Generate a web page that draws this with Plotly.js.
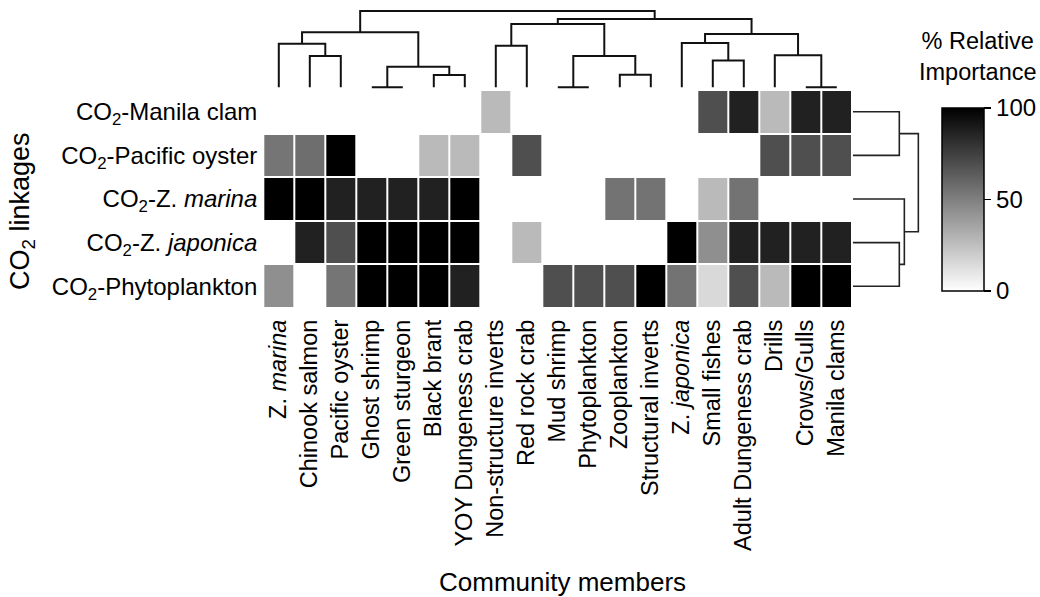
<!DOCTYPE html>
<html>
<head>
<meta charset="utf-8">
<script src="https://cdn.plot.ly/plotly-3.0.1.min.js"></script>
<style>html,body{margin:0;padding:0;background:#fff;}#chart{width:1040px;height:597px;}</style>
</head>
<body>
<div id="chart"></div>
<script>
// ---- data ----
var members = ["Z. <i>marina</i>", "Chinook salmon", "Pacific oyster", "Ghost shrimp", "Green sturgeon",
  "Black brant", "YOY Dungeness crab", "Non-structure inverts", "Red rock crab", "Mud shrimp",
  "Phytoplankton", "Zooplankton", "Structural inverts", "Z. <i>japonica</i>", "Small fishes",
  "Adult Dungeness crab", "Drills", "Crows/Gulls", "Manila clams"];
var linkages = ["CO<sub>2</sub>-Manila clam", "CO<sub>2</sub>-Pacific oyster", "CO<sub>2</sub>-Z. <i>marina</i>",
  "CO<sub>2</sub>-Z. <i>japonica</i>", "CO<sub>2</sub>-Phytoplankton"];
var n = null;
var manilaClam   = [n, n, n, n, n, n, n, 27, n, n, n, n, n, n, 69, 87, 27, 87, 87];
var pacificOyster= [54, 57, 100, n, n, 27, 27, n, 69, n, n, n, n, n, n, n, 69, 69, 69];
var zMarina      = [100, 100, 87, 87, 87, 87, 100, n, n, n, n, 55, 55, n, 27, 55, n, n, n];
var zJaponica    = [n, 87, 69, 100, 100, 100, 100, n, 27, n, n, n, n, 100, 44, 87, 87, 87, 87];
var phytoplankton= [44, n, 54, 100, 100, 100, 87, n, n, 69, 69, 69, 100, 55, 15, 69, 27, 100, 100];
var colorTicks = [0, 50, 100];
// dendrograms: [height, left, right]; leaves are indices
var colTree = [1.0,
  [0.72, [0.57, 0, [0.41, 1, 2]], [0.27, [0, 3, 4], [0.16, 5, 6]]],
  [0.895, [0.83, [0.545, 7, 8], [0.41, [0, 9, 10], [0.165, 11, 12]]],
          [0.70, [0.58, 13, [0.35, 14, 15]], [0.42, 16, [0, 17, 18]]]]];
var rowTree = [1.0, [0.709, 0, 1], [0.786, 2, [0.709, 3, 4]]];

// ---- build ----
function dendro(node, xs, ys) {
  if (typeof node === "number") return {p: node, h: 0};
  var a = dendro(node[1], xs, ys), b = dendro(node[2], xs, ys), h = node[0];
  xs.push(a.p, a.p, b.p, b.p, null);
  ys.push(a.h, h, h, b.h, null);
  return {p: (a.p + b.p) / 2, h: h};
}
var cxs = [], chs = []; dendro(colTree, cxs, chs);
var rps = [], rhs = []; dendro(rowTree, rps, rhs);

var z = [manilaClam, pacificOyster, zMarina, zJaponica, phytoplankton];
var idxX = members.map(function(_, i){return i;});
var idxY = linkages.map(function(_, i){return i;});
var W = 1040, H = 597;
var FONT = "Arial, 'Liberation Sans', sans-serif";

var traces = [
  {type: "heatmap", z: z, x: idxX, y: idxY, zmin: 0, zmax: 100,
   colorscale: [[0, "rgb(255,255,255)"], [1, "rgb(0,0,0)"]],
   xgap: 2, ygap: 2, hoverongaps: false,
   colorbar: {x: 941.7 / W, xanchor: "left", y: 1 - 199.3 / H, yanchor: "middle",
     len: 183.3, lenmode: "pixels", thickness: 42, thicknessmode: "pixels",
     xpad: 0, ypad: 0, outlinewidth: 1.5, outlinecolor: "#000",
     tickvals: colorTicks, ticktext: colorTicks.map(String), ticks: "outside", ticklen: 7, tickwidth: 1.5,
     tickcolor: "#000", tickfont: {size: 24, color: "#000", family: FONT}}},
  {type: "scatter", mode: "lines", x: cxs, y: chs, xaxis: "x", yaxis: "y2",
   line: {color: "#111", width: 2}, hoverinfo: "skip", showlegend: false},
  {type: "scatter", mode: "lines", x: rhs, y: rps, xaxis: "x3", yaxis: "y",
   line: {color: "#222", width: 1.6}, hoverinfo: "skip", showlegend: false}
];

var layout = {
  width: W, height: H, margin: {l: 0, r: 0, t: 0, b: 0},
  paper_bgcolor: "#fff", plot_bgcolor: "#fff", showlegend: false,
  font: {family: FONT, color: "#000", size: 23},
  xaxis: {domain: [263.3 / W, 852.3 / W], range: [-0.5, 18.5], tickvals: idxX, ticktext: members,
    tickangle: -90, ticks: "", showgrid: false, zeroline: false, showline: false,
    ticklabelstandoff: 6, tickfont: {size: 23.5}, anchor: "y"},
  yaxis: {domain: [1 - 308 / H, 1 - 90 / H], range: [4.5, -0.5], tickvals: idxY, ticktext: linkages,
    ticks: "", showgrid: false, zeroline: false, showline: false, ticklabelstandoff: 5,
    tickfont: {size: 24}, anchor: "x"},
  yaxis2: {domain: [1 - 89.6 / H, 1 - 8.7 / H], range: [-0.03, 1.03], visible: false, anchor: "x",
    showgrid: false, zeroline: false},
  xaxis3: {domain: [851 / W, 920.3 / W], range: [-0.03, 1.03], visible: false, anchor: "y",
    showgrid: false, zeroline: false},
  annotations: [
    {text: "Community members", xref: "paper", yref: "paper", x: 562 / W, y: 1 - 582 / H,
     xanchor: "center", yanchor: "middle", showarrow: false, font: {size: 26}},
    {text: "CO<sub>2</sub> linkages", xref: "paper", yref: "paper", x: 22 / W, y: 1 - 211 / H,
     xanchor: "center", yanchor: "middle", textangle: -90, showarrow: false, font: {size: 27}},
    {text: "% Relative<br>Importance", xref: "paper", yref: "paper", x: 978 / W, y: 1 - 56 / H,
     xanchor: "center", yanchor: "middle", showarrow: false, align: "center", font: {size: 23.5}}
  ]
};
Plotly.newPlot("chart", traces, layout, {staticPlot: true});
</script>
</body>
</html>
